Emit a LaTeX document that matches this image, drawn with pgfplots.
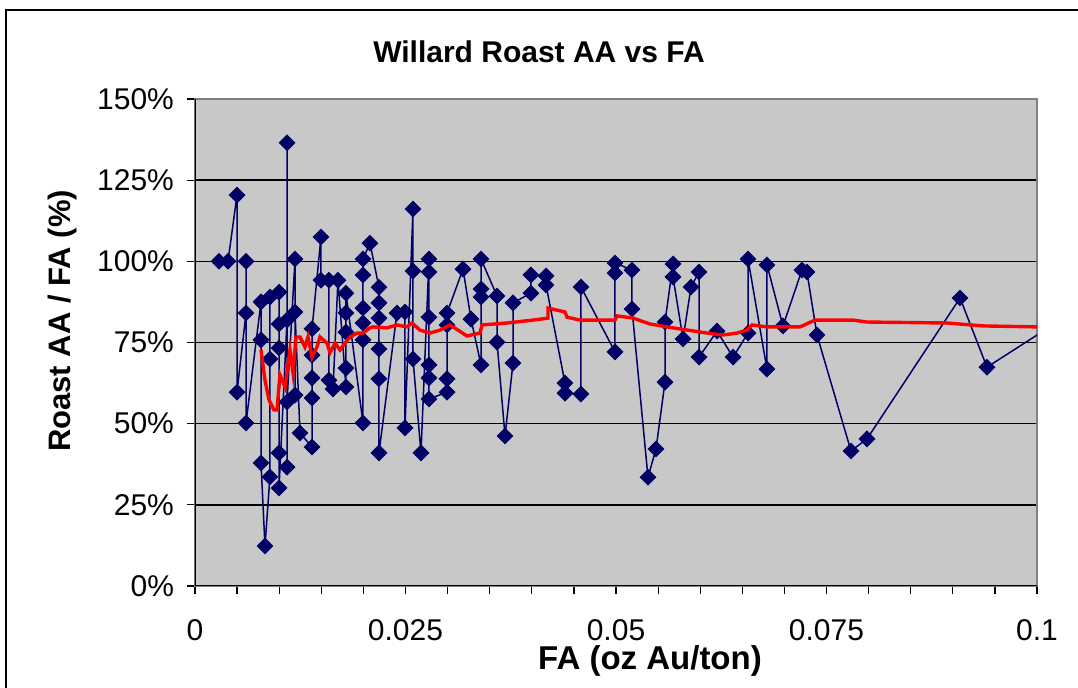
\documentclass[border=0pt]{standalone}
\usepackage{pgfplots}
\pgfplotsset{compat=1.18}
\usepackage{fontspec}
\setmainfont{Liberation Sans}
\definecolor{navy}{RGB}{0,0,102}
\definecolor{plotbg}{RGB}{200,200,200}
\begin{document}
\begin{tikzpicture}
\useasboundingbox (0,0) rectangle (539pt,344pt);
\draw[line width=1pt] (3pt,-20pt) -- (3pt,339pt) -- (600pt,339pt);
\begin{axis}[
  at={(97.5pt,51pt)}, anchor=south west,
  scale only axis, width=421pt, height=243.5pt,
  xmin=0, xmax=0.1, ymin=0, ymax=150,
  axis background/.style={fill=plotbg},
  axis line style={draw=gray, line width=0.8pt},
  xtick={0,0.025,0.05,0.075,0.1},
  xticklabels={0,0.025,0.05,0.075,0.1},
  minor x tick num=4,
  ytick={0,25,50,75,100,125,150},
  yticklabels={0\%,25\%,50\%,75\%,100\%,125\%,150\%},
  tick align=outside, tick pos=left,
  major tick length=4pt, minor tick length=4pt,
  every tick/.style={black, line width=0.6pt},
  ymajorgrids, grid style={black, line width=0.8pt},
  ticklabel style={font=\fontsize{15}{17}\selectfont},
  xticklabel style={yshift=-9pt},
  yticklabel style={xshift=-3pt},
  clip marker paths=true,
]
\addplot[navy, line width=0.75pt, mark=square*, mark size=2.6pt, mark options={fill=navy, draw=navy, rotate=45}] table {
x y
0.00285 100
0.00392 100
0.00499 120.4
0.00499 59.7
0.00606 84.1
0.00606 100
0.00606 50.2
0.00784 87.5
0.00784 75.8
0.00784 37.9
0.00831 12.3
0.00890 33.6
0.00890 69.9
0.00890 89.0
0.00998 90.5
0.00998 80.7
0.00998 73.3
0.00998 41.0
0.00998 30.2
0.01093 81.9
0.01093 136.5
0.01093 36.6
0.01093 56.7
0.01188 100.7
0.01188 58.8
0.01188 84.4
0.01247 47.1
0.01390 42.8
0.01390 57.9
0.01390 64.1
0.01390 71.1
0.01390 79.2
0.01496 107.5
0.01496 94.2
0.01591 94.2
0.01591 63.4
0.01639 60.7
0.01698 94.2
0.01793 61.3
0.01793 67.1
0.01793 78.2
0.01793 84.1
0.01793 90.2
0.01995 50.2
0.01995 75.8
0.01995 81.0
0.01995 85.6
0.01995 95.8
0.01995 100.7
0.02078 105.6
0.02185 92.0
0.02185 87.2
0.02185 82.5
0.02185 73.0
0.02185 63.8
0.02185 41.0
0.02399 84.1
0.02494 84.4
0.02494 48.7
0.02589 116.1
0.02589 97.0
0.02589 69.9
0.02684 41.0
0.02779 100.7
0.02779 96.7
0.02779 82.8
0.02779 68.1
0.02779 64.1
0.02779 57.6
0.02993 59.7
0.02993 63.8
0.02993 80.4
0.02993 84.1
0.03183 97.6
0.03278 82.2
0.03397 68.1
0.03397 89.0
0.03397 91.5
0.03397 100.7
0.03587 89.3
0.03587 75.1
0.03682 46.2
0.03777 68.7
0.03777 87.2
0.03990 90.2
0.03990 95.8
0.04169 95.5
0.04169 92.7
0.04394 62.5
0.04394 59.4
0.04584 59.1
0.04584 92.1
0.04988 72.1
0.04988 96.4
0.04988 99.5
0.05190 97.3
0.05190 85.3
0.05380 33.5
0.05475 42.2
0.05582 62.8
0.05582 81.3
0.05677 99.2
0.05677 95.2
0.05796 76.1
0.05891 92.1
0.05986 96.7
0.05986 70.5
0.06200 78.5
0.06390 70.5
0.06568 77.9
0.06568 100.7
0.06793 66.8
0.06793 98.9
0.06983 80.1
0.07209 97.3
0.07268 96.7
0.07387 77.3
0.07791 41.6
0.07981 45.3
0.09086 88.7
0.09406 67.4
0.10500 85.6
};
\addplot[red, line width=1.7pt, no marks] table {
x y
0.00784 72.7
0.00831 63.4
0.00879 57.3
0.00938 54.2
0.00974 54.2
0.01009 65.0
0.01069 61.3
0.01128 72.7
0.01164 65.6
0.01200 76.7
0.01247 76.7
0.01306 73.6
0.01342 76.7
0.01390 70.5
0.01449 73.6
0.01485 76.7
0.01568 74.8
0.01603 71.8
0.01663 74.8
0.01722 72.7
0.01781 74.8
0.01841 76.7
0.01924 77.9
0.01995 77.9
0.02078 79.5
0.02114 79.8
0.02280 79.5
0.02399 80.4
0.02518 79.8
0.02577 81.0
0.02672 78.8
0.02791 77.9
0.02910 78.8
0.03029 80.4
0.03230 77.0
0.03385 77.9
0.03409 80.4
0.03705 81.0
0.04014 81.9
0.04192 82.5
0.04193 85.6
0.04394 84.4
0.04418 82.8
0.04572 81.9
0.04988 81.9
0.05012 83.2
0.05202 82.5
0.05404 80.7
0.05677 79.5
0.06081 77.9
0.06271 77.3
0.06437 77.9
0.06556 78.8
0.06615 80.4
0.06793 79.8
0.07185 79.8
0.07363 81.9
0.07815 81.9
0.07981 81.3
0.08931 81.0
0.09359 80.1
0.10000 79.8
};
\draw[black, line width=0.8pt] (rel axis cs:0,1) -- (rel axis cs:0,0) -- (rel axis cs:1,0);
\end{axis}
\node[font=\bfseries\fontsize{15}{18}\selectfont] at (269.5pt,318pt) {Willard Roast AA vs FA};
\node[font=\bfseries\fontsize{15.5}{18}\selectfont, rotate=90] at (31pt,183.5pt) {Roast AA / FA (\%)};
\node[font=\bfseries\fontsize{16.5}{19}\selectfont] at (325pt,13.5pt) {FA (oz Au/ton)};
\end{tikzpicture}
\end{document}
